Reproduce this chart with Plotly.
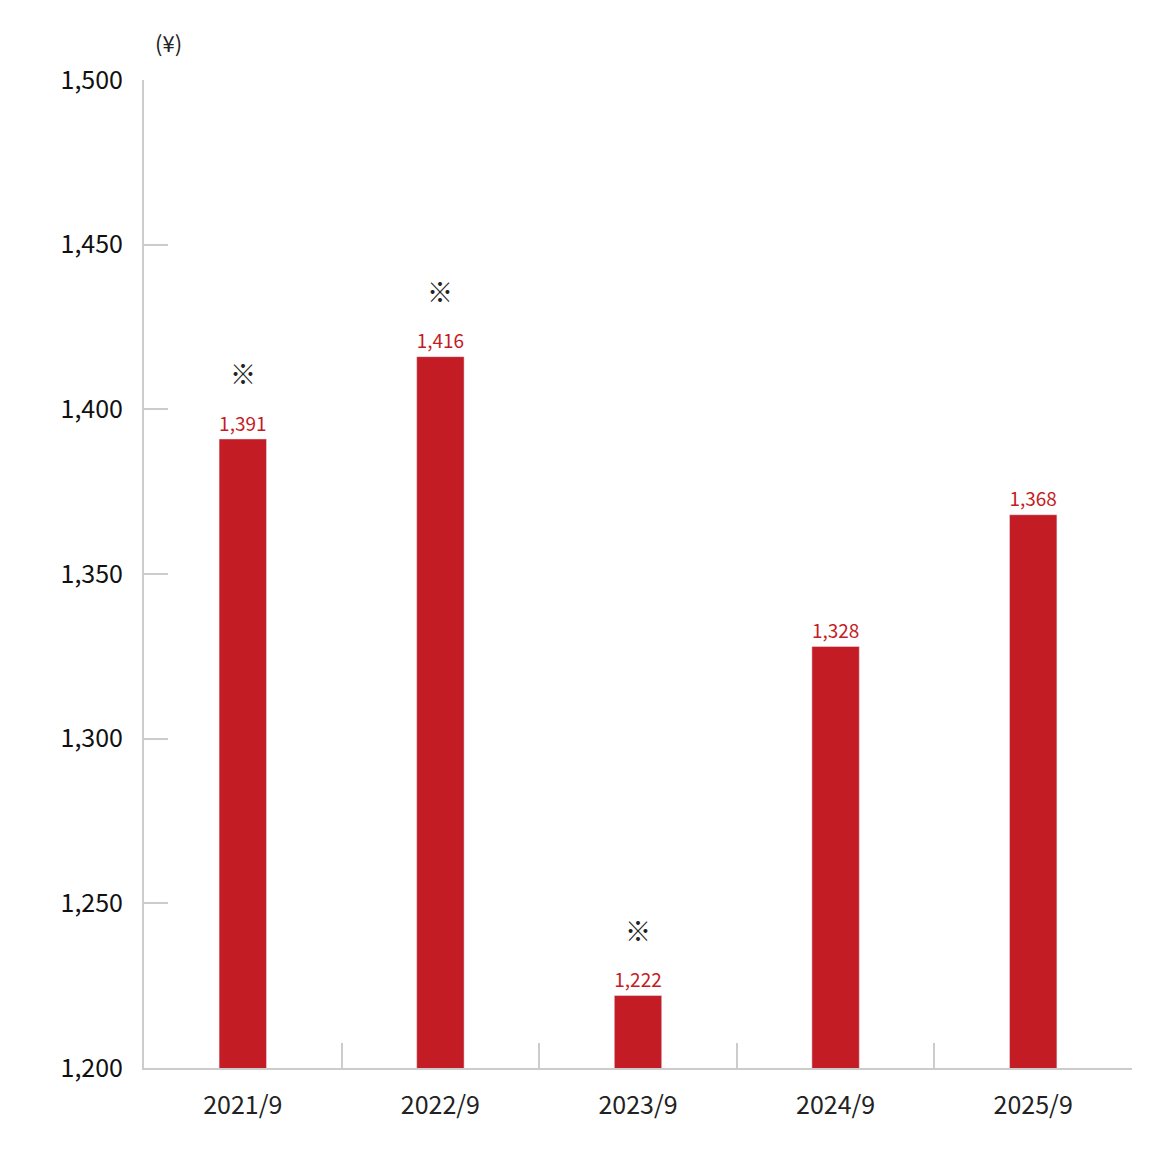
import plotly.graph_objects as go

categories = ["2021/9", "2022/9", "2023/9", "2024/9", "2025/9"]
values = [1391, 1416, 1222, 1328, 1368]
notes = [True, True, True, False, False]
yticks = [1200, 1250, 1300, 1350, 1400, 1450, 1500]

FONT = "Noto Sans CJK JP"
RED = "#c41c24"

fig = go.Figure(go.Bar(
    x=categories, y=values, width=0.24, marker_color=RED,
    text=[f"{v:,}" for v in values], textposition="outside",
    textfont=dict(color=RED, size=29, family=FONT), cliponaxis=False,
))
for c, v, n in zip(categories, values, notes):
    if n:
        fig.add_annotation(x=c, y=v, text="※", showarrow=False, yanchor="bottom",
                           yshift=46, font=dict(size=26, color="#222", family=FONT))
fig.add_annotation(xref="paper", yref="paper", x=0.025, y=1.02, text="(¥)", showarrow=False,
                   xanchor="center", yanchor="bottom", font=dict(size=22, color="#222", family=FONT))

fig.update_layout(
    width=1151, height=1161, margin=dict(l=136, r=27, t=72, b=101),
    plot_bgcolor="white", paper_bgcolor="white", showlegend=False,
    font=dict(family=FONT, color="#222"),
)
fig.update_yaxes(range=[1200, 1500], tickvals=yticks, ticktext=[f"{t:,}" for t in yticks],
                 ticks="inside", ticklen=24, tickcolor="#ccc", tickwidth=2,
                 showline=True, linecolor="#ccc", linewidth=2, showgrid=False, zeroline=False,
                 tickfont=dict(size=25, color="#111"), ticklabelstandoff=14)
fig.update_xaxes(tickson="boundaries", ticks="inside", ticklen=25, tickcolor="#ccc", tickwidth=2,
                 showline=True, linecolor="#ccc", linewidth=2, showgrid=False,
                 tickfont=dict(size=25, color="#222"), ticklabelstandoff=14)
fig.write_html("out.html")
